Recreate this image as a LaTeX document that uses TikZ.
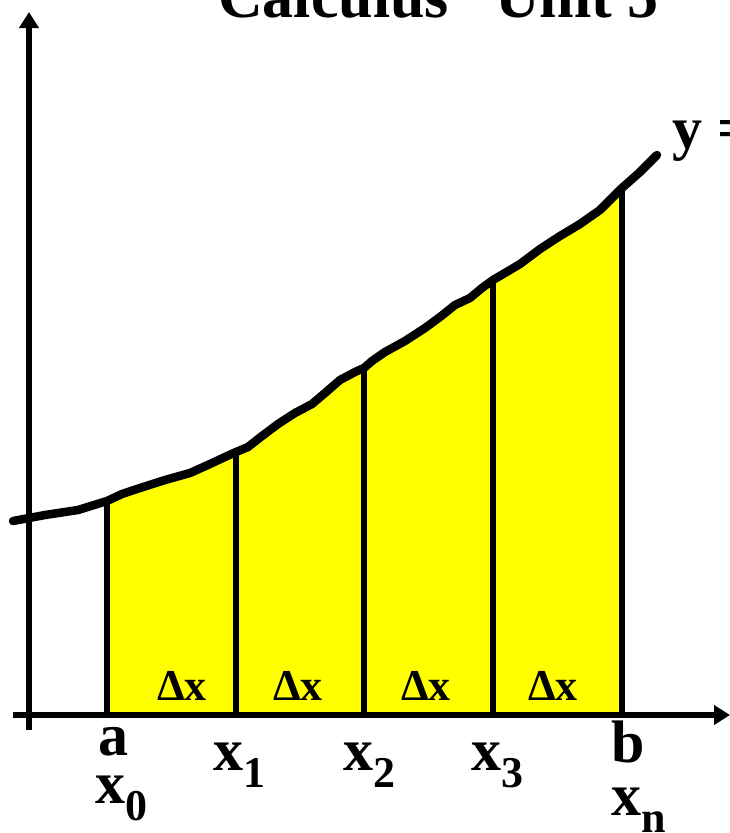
\documentclass[tikz,border=0pt]{standalone}
\usepackage{fontspec}
\setmainfont{Liberation Serif}
\usetikzlibrary{arrows.meta}
\definecolor{areayellow}{HTML}{FFFF00}
\definecolor{ink}{HTML}{000000}
\tikzset{
  axisline/.style={line width=5.5pt,draw=ink},
  axisarr/.style={axisline,-{Triangle[length=16pt,width=19pt]}},
  curveline/.style={line width=8.5pt,draw=ink,line join=round,line cap=round},
  ordline/.style={line width=6pt,draw=ink},
  areafill/.style={fill=areayellow,draw=none},
  titlelbl/.style={inner sep=0pt,anchor=base west,font=\fontsize{62}{62}\selectfont\bfseries},
  ticklbl/.style={inner sep=0pt,anchor=base west,font=\fontsize{60}{60}\selectfont\bfseries},
  dxlbl/.style={inner sep=0pt,anchor=base,font=\fontsize{44}{44}\selectfont\bfseries}
}
\newcommand{\lowsub}[1]{\raisebox{-17pt}{\fontsize{44}{44}\selectfont\bfseries #1}}
\newcommand{\curvepts}{(13,521) -- (45,515) -- (78,510) -- (107,501) -- (122,494) -- (140,488)
  -- (165,480) -- (190,473) -- (210,464) -- (225,457) -- (236,452) -- (248,447)
  -- (262,436) -- (278,424) -- (295,413) -- (312,404) -- (325,393) -- (340,380)
  -- (355,372) -- (364,368) -- (372,361) -- (385,352) -- (405,341) -- (425,328)
  -- (440,317) -- (455,305) -- (470,298) -- (482,288) -- (493,280) -- (510,270)
  -- (520,264) -- (540,249) -- (560,236) -- (580,224) -- (600,210) -- (615,195)
  -- (622,188) -- (640,172) -- (657,155)}

\begin{document}
\begin{tikzpicture}[x=1pt,y=-1pt]
    \useasboundingbox (0,0) rectangle (730,833);
    \clip (0,0) rectangle (730,833);

    % shaded area under the curve
    \begin{scope}
      \clip (107,0) rectangle (622,715);
      \path[areafill] (13,715) -- \curvepts -- (657,715) -- cycle;
    \end{scope}

    \coordinate (xleft) at (13,715);
    \coordinate (xright) at (730,715);
    \coordinate (ylow) at (29,730);
    \coordinate (ytop) at (29,12);

    \coordinate (base0) at (107,715);  \coordinate (top0) at (107,501);
    \coordinate (base1) at (236,715);  \coordinate (top1) at (236,452);
    \coordinate (base2) at (364,715);  \coordinate (top2) at (364,368);
    \coordinate (base3) at (493,715);  \coordinate (top3) at (493,280);
    \coordinate (base4) at (622,715);  \coordinate (top4) at (622,188);

    \draw[ordline] (base0) -- (top0);
    \draw[ordline] (base1) -- (top1);
    \draw[ordline] (base2) -- (top2);
    \draw[ordline] (base3) -- (top3);
    \draw[ordline] (base4) -- (top4);

    \draw[axisarr] (xleft) -- (xright);
    \draw[axisarr] (ylow) -- (ytop);

    \draw[curveline] \curvepts;

    \node[titlelbl] (title1) at (218,17) {Calculus};
    \node[titlelbl] (title2) at (495,17) {Unit 5};
    \node[ticklbl] (fname) at (672,148) {y =};

    \node[dxlbl] (dx1) at (182,700) {Δx};
    \node[dxlbl] (dx2) at (298,700) {Δx};
    \node[dxlbl] (dx3) at (426,700) {Δx};
    \node[dxlbl] (dx4) at (553,700) {Δx};

    \node[ticklbl] (lbla) at (98,755) {a};
    \node[ticklbl] (lblx0) at (95,803) {x\lowsub{0}};
    \node[ticklbl] (lblx1) at (213,770) {x\lowsub{1}};
    \node[ticklbl] (lblx2) at (343,770) {x\lowsub{2}};
    \node[ticklbl] (lblx3) at (471,770) {x\lowsub{3}};
    \node[ticklbl] (lblb) at (611,762) {b};
    \node[ticklbl] (lblxn) at (611,815) {x\lowsub{n}};
  \end{tikzpicture}
\end{document}
